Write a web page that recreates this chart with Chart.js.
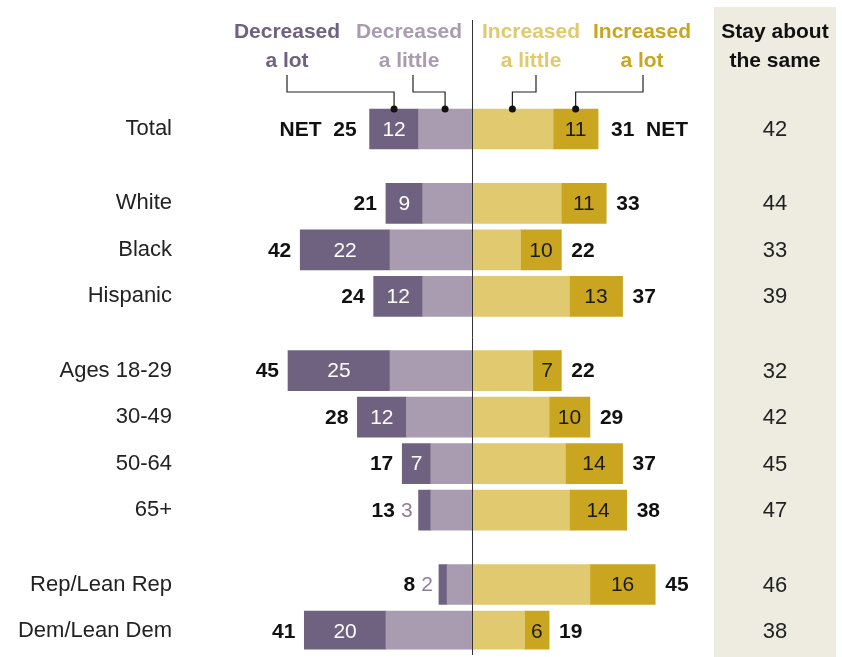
<!DOCTYPE html>
<html>
<head>
<meta charset="utf-8">
<script src="https://cdn.jsdelivr.net/npm/chart.js@4/dist/chart.umd.min.js"></script>
<style>
  body { margin: 0; background: #fff; }
  canvas { display: block; }
</style>
</head>
<body>
<canvas id="chart" width="842" height="657"></canvas>
<script>
const groups = [
  ['Total'],
  ['White', 'Black', 'Hispanic'],
  ['Ages 18-29', '30-49', '50-64', '65+'],
  ['Rep/Lean Rep', 'Dem/Lean Dem']
];
const decreasedLot = [12, 9, 22, 12, 25, 12, 7, 3, 2, 20];
const decreasedNet = [25, 21, 42, 24, 45, 28, 17, 13, 8, 41];
const increasedLot = [11, 11, 10, 13, 7, 10, 14, 14, 16, 6];
const increasedNet = [31, 33, 22, 37, 22, 29, 37, 38, 45, 19];
const staySame = [42, 44, 33, 39, 32, 42, 45, 47, 46, 38];

const FONT = "'Liberation Sans', Arial, sans-serif";
const groupGap = 0.6;

// row positions on the y scale, with extra space between groups
const categories = [];
const rowPos = [];
let pos = 0;
groups.forEach((g, gi) => {
  if (gi > 0) pos += groupGap;
  g.forEach(name => {
    categories.push(name);
    rowPos.push(pos);
    pos += 1;
  });
});

const decreasedLittle = decreasedNet.map((n, i) => n - decreasedLot[i]);
const increasedLittle = increasedNet.map((n, i) => n - increasedLot[i]);

function points(values, sign) {
  return values.map((v, i) => ({ x: sign * v, y: rowPos[i] }));
}

const labelsPlugin = {
  id: 'labels',
  beforeDraw(chart) {
    const ctx = chart.ctx;
    ctx.save();
    ctx.fillStyle = '#eeece0';
    ctx.fillRect(714, 7, 122, 650);
    ctx.restore();
  },
  afterDatasetsDraw(chart) {
    const ctx = chart.ctx;
    const xs = chart.scales.x;
    const zero = xs.getPixelForValue(0);
    const decLotMeta = chart.getDatasetMeta(1).data;
    const decLittleMeta = chart.getDatasetMeta(0).data;
    const incLittleMeta = chart.getDatasetMeta(2).data;
    const incLotMeta = chart.getDatasetMeta(3).data;

    ctx.save();
    ctx.textBaseline = 'middle';

    categories.forEach((c, i) => {
      const lot = decLotMeta[i];
      const y = lot.y + 1;
      const left = Math.min(lot.x, lot.base);
      let netRight = left - 9;

      // decreased a lot value
      ctx.font = '21px ' + FONT;
      if (decreasedLot[i] < 5) {
        ctx.fillStyle = '#8d7f9c';
        ctx.textAlign = 'right';
        ctx.fillText(decreasedLot[i], left - 6, y);
        netRight = left - 6 - ctx.measureText(String(decreasedLot[i])).width - 6;
      } else {
        ctx.fillStyle = '#fff';
        ctx.textAlign = 'center';
        ctx.fillText(decreasedLot[i], (lot.x + lot.base) / 2, y);
      }

      // increased a lot value
      const il = incLotMeta[i];
      ctx.fillStyle = '#1a1a1a';
      ctx.textAlign = 'center';
      ctx.fillText(increasedLot[i], (il.x + il.base) / 2, y);

      // net labels
      ctx.font = 'bold 21px ' + FONT;
      ctx.fillStyle = '#111';
      ctx.textAlign = 'right';
      ctx.fillText((i === 0 ? 'NET  ' : '') + decreasedNet[i], i === 0 ? left - 13 : netRight, y);
      ctx.textAlign = 'left';
      ctx.fillText(increasedNet[i] + (i === 0 ? '  NET' : ''), Math.max(il.x, il.base) + (i === 0 ? 13 : 10), y);

      // stay about the same
      ctx.font = '22px ' + FONT;
      ctx.fillStyle = '#222';
      ctx.textAlign = 'center';
      ctx.fillText(staySame[i], 775, y);
    });

    // zero line
    ctx.strokeStyle = '#333';
    ctx.lineWidth = 1;
    ctx.beginPath();
    ctx.moveTo(Math.round(zero) + 0.5, 20);
    ctx.lineTo(Math.round(zero) + 0.5, 655);
    ctx.stroke();

    // headers
    const headers = [
      { lines: ['Decreased', 'a lot'], x: 287, lineX: 287, color: '#6f6280', bar: decLotMeta[0] },
      { lines: ['Decreased', 'a little'], x: 409, lineX: 413, color: '#a99cb0', bar: decLittleMeta[0] },
      { lines: ['Increased', 'a little'], x: 531, lineX: 536, color: '#e0c96e', bar: incLittleMeta[0] },
      { lines: ['Increased', 'a lot'], x: 642, lineX: 643, color: '#c9a520', bar: incLotMeta[0] }
    ];
    ctx.font = 'bold 21px ' + FONT;
    ctx.textAlign = 'center';
    headers.forEach(h => {
      ctx.fillStyle = h.color;
      ctx.fillText(h.lines[0], h.x, 32);
      ctx.fillText(h.lines[1], h.x, 61);

      const dotX = (h.bar.x + h.bar.base) / 2;
      const dotY = h.bar.y - 20;
      ctx.strokeStyle = '#222';
      ctx.lineWidth = 1.2;
      ctx.beginPath();
      ctx.moveTo(h.lineX, 75);
      ctx.lineTo(h.lineX, 92);
      ctx.lineTo(dotX, 92);
      ctx.lineTo(dotX, dotY);
      ctx.stroke();
      ctx.fillStyle = '#111';
      ctx.beginPath();
      ctx.arc(dotX, dotY, 3.5, 0, Math.PI * 2);
      ctx.fill();
    });

    ctx.fillStyle = '#111';
    ctx.fillText('Stay about', 775, 32);
    ctx.fillText('the same', 775, 61);
    ctx.restore();
  }
};

new Chart(document.getElementById('chart'), {
  type: 'bar',
  data: {
    datasets: [
      { label: 'Decreased a little', data: points(decreasedLittle, -1), backgroundColor: '#a99cb0' },
      { label: 'Decreased a lot', data: points(decreasedLot, -1), backgroundColor: '#6f6280' },
      { label: 'Increased a little', data: points(increasedLittle, 1), backgroundColor: '#e0c96e' },
      { label: 'Increased a lot', data: points(increasedLot, 1), backgroundColor: '#c9a520' }
    ]
  },
  options: {
    indexAxis: 'y',
    responsive: false,
    animation: false,
    events: [],
    barThickness: 40,
    layout: { padding: { top: 82.5, bottom: 7.4, right: 125.6, left: 0 } },
    plugins: {
      legend: { display: false },
      tooltip: { enabled: false }
    },
    scales: {
      x: {
        type: 'linear',
        stacked: true,
        min: -70,
        max: 60,
        display: false
      },
      y: {
        type: 'linear',
        stacked: true,
        reverse: true,
        offset: false,
        min: -1,
        max: 11.2,
        border: { display: false },
        grid: { display: false, drawTicks: false, offset: false },
        afterFit(scale) {
          scale.width = 186;
          scale.paddingTop = 0;
          scale.paddingBottom = 0;
        },
        afterBuildTicks(scale) { scale.ticks = rowPos.map(v => ({ value: v })); },
        ticks: {
          autoSkip: false,
          padding: 14,
          color: '#222',
          font: { family: FONT, size: 22 },
          callback: (v, i) => categories[i]
        }
      }
    }
  },
  plugins: [labelsPlugin]
});
</script>
</body>
</html>
